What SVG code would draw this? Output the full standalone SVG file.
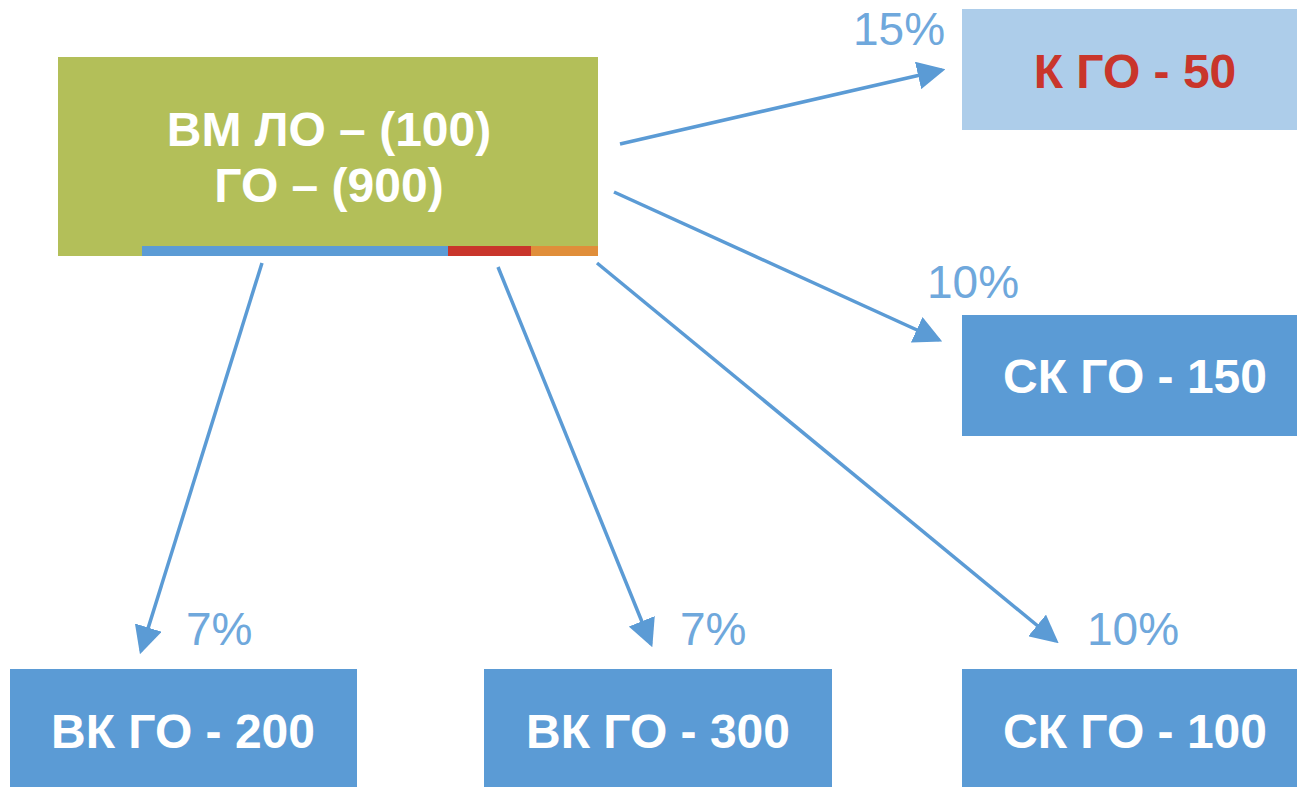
<svg xmlns="http://www.w3.org/2000/svg" width="1297" height="787" viewBox="0 0 1297 787">
<style>
.box{fill:#5B9BD5}
.t{font-family:"Liberation Sans",Arial,sans-serif;font-weight:bold;font-size:48px;fill:#fff;text-anchor:middle}
.p{font-family:"Liberation Sans",Arial,sans-serif;font-size:46px;fill:#6FA8DC}
.c{stroke:#5B9BD5;stroke-width:3.5;fill:none;marker-end:url(#ah)}
</style>
<defs>
<marker id="ah" markerWidth="8" markerHeight="8" refX="7" refY="4" orient="auto" markerUnits="strokeWidth">
<path d="M0,0 L8,4 L0,8 Z" fill="#5B9BD5"/>
</marker>
</defs>
<rect width="1297" height="787" fill="#fff"/>
<g id="main">
<rect x="58" y="57" width="540" height="199" fill="#B3BF59"/>
<rect x="142" y="246" width="306" height="10" fill="#5B9BD5"/>
<rect x="448" y="246" width="83" height="10" fill="#C9352B"/>
<rect x="531" y="246" width="67" height="10" fill="#E08E3A"/>
<text class="t" x="329" y="146">ВМ ЛО – (100)</text>
<text class="t" x="329" y="202">ГО – (900)</text>
</g>
<g id="kgo50">
<rect x="962" y="9" width="335" height="121" fill="#ADCDEA"/>
<text class="t" x="1135" y="88" style="fill:#C9352B">К ГО - 50</text>
</g>
<g id="skgo150">
<rect class="box" x="962" y="315" width="335" height="121"/>
<text class="t" x="1135" y="393">СК ГО - 150</text>
</g>
<g id="vkgo200">
<rect class="box" x="10" y="669" width="347" height="118"/>
<text class="t" x="183" y="748">ВК ГО - 200</text>
</g>
<g id="vkgo300">
<rect class="box" x="484" y="669" width="348" height="118"/>
<text class="t" x="658" y="748">ВК ГО - 300</text>
</g>
<g id="skgo100">
<rect class="box" x="962" y="669" width="335" height="118"/>
<text class="t" x="1135" y="748">СК ГО - 100</text>
</g>
<g id="connectors">
<line class="c" x1="620" y1="144" x2="942" y2="70"/>
<line class="c" x1="614" y1="192" x2="939" y2="340"/>
<line class="c" x1="262" y1="263" x2="141" y2="651"/>
<line class="c" x1="498" y1="267" x2="651" y2="644"/>
<line class="c" x1="597" y1="263" x2="1056" y2="641"/>
</g>
<g id="labels">
<text class="p" x="853" y="45">15%</text>
<text class="p" x="927" y="298">10%</text>
<text class="p" x="186" y="645">7%</text>
<text class="p" x="680" y="645">7%</text>
<text class="p" x="1087" y="645">10%</text>
</g>
</svg>
